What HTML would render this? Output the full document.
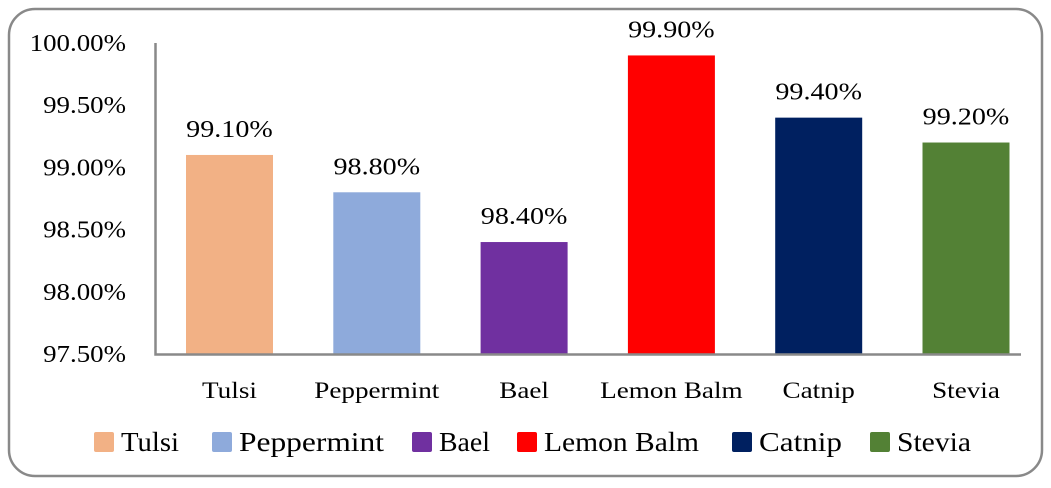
<!DOCTYPE html>
<html><head><meta charset="utf-8"><style>
body{margin:0;background:#fff;}
svg{display:block;}
text{font-family:"Liberation Serif",serif;}
</style></head><body>
<svg id="chart" width="1051" height="488">
<rect x="9" y="9" width="1033" height="467" rx="26" ry="26" fill="#fff" stroke="#898989" stroke-width="2.5"/>
<g id="g"></g>
</svg>
<script>
const categories=["Tulsi","Peppermint","Bael","Lemon Balm","Catnip","Stevia"];
const values=[99.10,98.80,98.40,99.90,99.40,99.20];
const colors=["#f2b185","#8eaadb","#7030a0","#ff0000","#002060","#538135"];
const ticks=[97.5,98.0,98.5,99.0,99.5,100.0];
const legendX=[94,212,412,517,732,870];
const legendW=[58,145,51,155,83,74];
const NS="http://www.w3.org/2000/svg";
const g=document.getElementById('g');
const y0=354,y1=43,vmin=97.5,vmax=100;
const y=v=>y0-(v-vmin)/(vmax-vmin)*(y0-y1);
const x=i=>229.5+i*147.3;
function mk(t,a,txt){const e=document.createElementNS(NS,t);for(const k in a)e.setAttribute(k,a[k]);if(txt!=null)e.textContent=txt;g.appendChild(e);return e;}
function stretch(e,f){const w=e.getComputedTextLength();e.setAttribute('textLength',(w*f).toFixed(1));e.setAttribute('lengthAdjust','spacingAndGlyphs');}
ticks.forEach(t=>{const e=mk('text',{x:126,y:y(t)+8,'text-anchor':'end','font-size':24,fill:'#000','font-family':'Liberation Serif, serif'},t.toFixed(2)+'%');


stretch(e,1.12);});
values.forEach((v,i)=>{
const b=mk('rect',{x:x(i)-43.5,y:y(v),width:87,height:y0-y(v),fill:colors[i]});


const l=mk('text',{x:x(i),y:y(v)-18,'text-anchor':'middle','font-size':24,fill:'#000','font-family':'Liberation Serif, serif'},v.toFixed(2)+'%');


stretch(l,1.17);
const c=mk('text',{x:x(i),y:398,'text-anchor':'middle','font-size':23,fill:'#000','font-family':'Liberation Serif, serif'},categories[i]);


stretch(c,1.18);
const s=mk('rect',{x:legendX[i],y:432,width:20,height:20,rx:2,fill:colors[i]});


const t=mk('text',{x:legendX[i]+27,y:451,'font-size':27,fill:'#000','font-family':'Liberation Serif, serif',textLength:legendW[i],lengthAdjust:'spacingAndGlyphs'},categories[i]);


});
const ax=mk('path',{d:`M155.5 ${y1} V${y0+0.5} H1021`,fill:'none',stroke:'#898989','stroke-width':2.5});


</script>
</body></html>
